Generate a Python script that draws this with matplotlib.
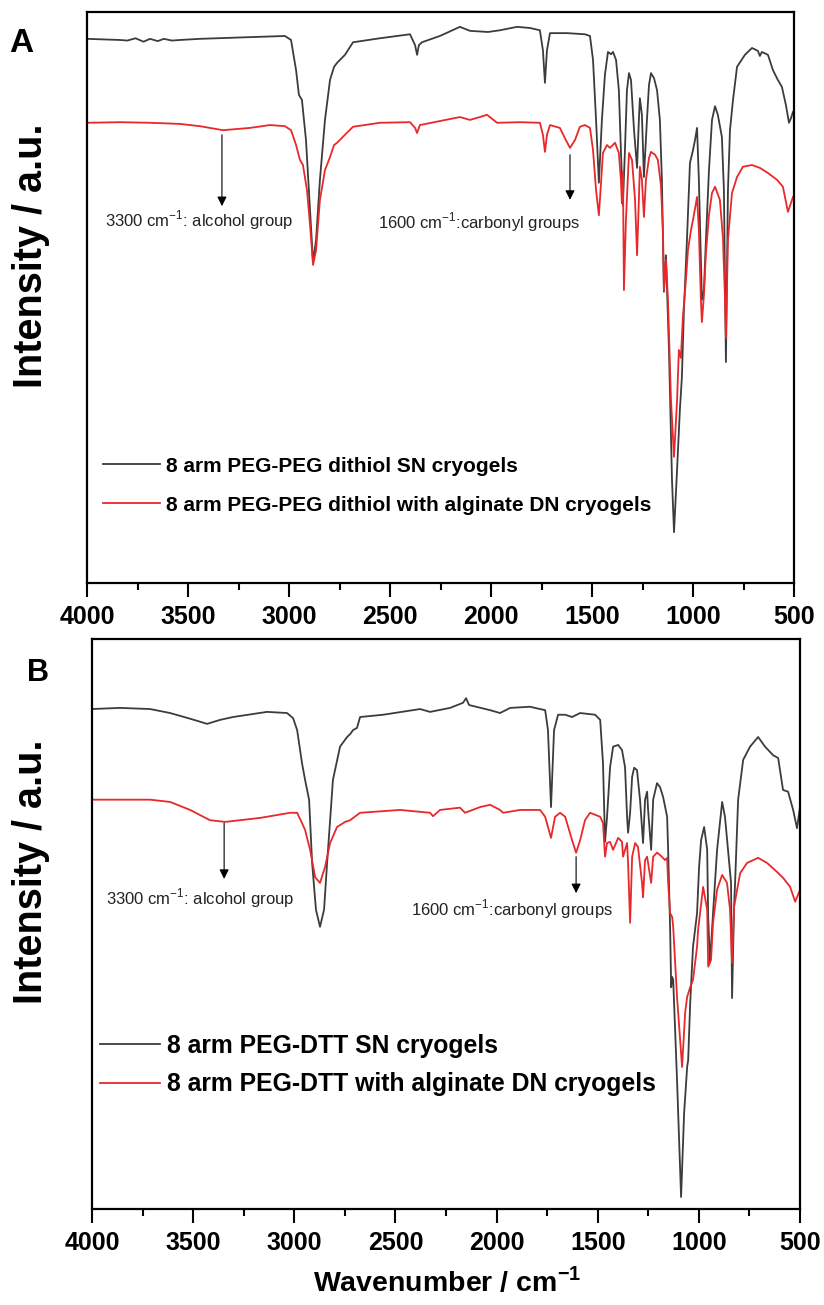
import matplotlib
matplotlib.use('Agg')
import matplotlib.pyplot as plt
from matplotlib import font_manager
from matplotlib.ticker import MultipleLocator

# FTIR spectra of the SN / DN cryogels (wavenumber in cm-1, intensity in a.u.)

# panel A - 8 arm PEG-PEG dithiol
a_sn_wn = [4000, 3837, 3800, 3760, 3720, 3688, 3650, 3620, 3580, 3540, 3441, 3193, 3020, 2990, 2965,
           2951, 2936, 2916, 2896, 2881, 2866, 2847, 2822, 2797, 2777, 2762, 2748, 2723, 2683,
           2550, 2401, 2376, 2366, 2357, 2342, 2253, 2154, 2104, 2015, 1956, 1871, 1807, 1758,
           1743, 1733, 1723, 1708, 1624, 1535, 1510, 1495, 1480, 1466, 1451, 1436, 1421, 1406,
           1396, 1381, 1367, 1357, 1347, 1337, 1327, 1317, 1307, 1292, 1277, 1268, 1263, 1253,
           1243, 1228, 1218, 1208, 1193, 1178, 1164, 1154, 1144, 1134, 1119, 1104, 1094, 1079,
           1065, 1055, 1045, 1030, 1015, 1000, 990, 980, 971, 961, 956, 946, 936, 921, 906, 891,
           877, 857, 847, 837, 827, 817, 802, 782, 743, 708, 679, 669, 659, 629, 604, 580, 560,
           540, 525, 515, 505]
a_sn_int = [95.3, 95.1, 95.0, 95.4, 94.8, 95.3, 94.9, 95.3, 95.0, 95.1, 95.3, 95.6, 95.8, 95.1, 89.8,
            85.5, 84.6, 77.6, 65.3, 56.2, 60.1, 70.6, 81.1, 88.1, 90.4, 91.1, 91.6, 92.5, 94.7,
            95.4, 96.1, 94.2, 92.5, 94.2, 94.7, 95.8, 97.4, 96.7, 96.5, 96.8, 97.4, 97.2, 96.8,
            93.3, 87.6, 93.3, 96.3, 96.3, 96.1, 95.8, 91.6, 81.1, 70.1, 81.1, 89.0, 93.0, 92.6,
            93.0, 91.6, 86.3, 75.8, 66.2, 75.8, 86.3, 89.3, 88.1, 79.3, 72.7, 81.1, 84.9, 82.0,
            71.1, 81.1, 87.2, 89.3, 88.4, 86.3, 81.1, 70.6, 51.0, 57.4, 40.8, 18.0, 8.9, 19.8,
            30.3, 36.1, 47.8, 60.1, 73.6, 75.8, 77.6, 79.7, 70.6, 56.6, 49.6, 51.3, 60.1, 72.3,
            81.1, 83.5, 82.0, 78.1, 68.8, 38.7, 68.8, 79.3, 84.6, 90.4, 92.5, 93.7, 93.2, 92.3,
            93.0, 92.5, 89.8, 88.1, 86.9, 83.7, 80.6, 81.4, 82.5]

a_dn_wn = [4000, 3837, 3688, 3540, 3441, 3327, 3193, 3094, 3020, 2990, 2965, 2946, 2931, 2911, 2896,
           2881, 2866, 2847, 2822, 2797, 2777, 2762, 2748, 2723, 2683, 2550, 2401, 2376, 2366,
           2352, 2253, 2154, 2104, 2055, 2020, 1970, 1857, 1758, 1743, 1733, 1723, 1708, 1659,
           1634, 1609, 1584, 1560, 1535, 1510, 1495, 1480, 1466, 1456, 1446, 1426, 1411, 1386,
           1367, 1357, 1352, 1347, 1342, 1332, 1317, 1302, 1287, 1277, 1268, 1263, 1253, 1243,
           1233, 1218, 1208, 1188, 1174, 1159, 1149, 1144, 1134, 1124, 1109, 1094, 1079, 1070,
           1060, 1050, 1035, 1025, 1010, 1000, 980, 971, 961, 956, 946, 936, 921, 906, 891, 867,
           852, 842, 837, 827, 807, 782, 753, 708, 669, 629, 584, 555, 530, 505]
a_dn_int = [80.6, 80.7, 80.6, 80.4, 80.0, 79.3, 79.7, 80.2, 80.0, 79.3, 76.7, 74.1, 73.2, 68.8, 62.7,
            55.7, 58.3, 67.1, 72.3, 74.6, 76.7, 77.1, 77.6, 78.5, 79.9, 80.6, 80.7, 79.7, 78.8,
            80.2, 80.9, 81.6, 81.1, 81.6, 82.0, 80.6, 80.7, 80.6, 78.5, 75.5, 78.5, 80.2, 79.7,
            77.9, 76.2, 77.6, 79.9, 80.2, 79.7, 75.8, 68.8, 64.4, 69.7, 75.3, 76.7, 76.2, 77.1,
            75.3, 70.6, 66.5, 72.0, 51.3, 63.6, 75.3, 74.1, 67.1, 57.4, 67.1, 72.9, 70.6, 64.1,
            70.6, 74.4, 75.5, 75.0, 74.1, 69.7, 61.8, 51.3, 56.6, 49.6, 32.0, 22.1, 32.0, 40.8,
            39.4, 46.6, 53.1, 58.3, 61.8, 63.6, 67.6, 61.8, 49.6, 45.7, 50.4, 57.8, 64.4, 68.3,
            69.4, 67.1, 60.6, 50.1, 42.9, 60.1, 68.3, 71.1, 72.9, 73.2, 72.7, 71.8, 70.6, 69.4,
            65.0, 67.6]

# panel B - 8 arm PEG-DTT
b_sn_wn = [4000, 3862, 3713, 3614, 3515, 3431, 3367, 3303, 3135, 3036, 3006, 2986, 2962, 2947, 2927,
           2912, 2893, 2873, 2853, 2838, 2809, 2774, 2739, 2724, 2710, 2690, 2675, 2561, 2378,
           2329, 2230, 2166, 2151, 2136, 2032, 1983, 1933, 1835, 1760, 1746, 1731, 1716, 1696,
           1661, 1627, 1587, 1513, 1488, 1474, 1464, 1454, 1439, 1424, 1399, 1380, 1365, 1355,
           1350, 1340, 1330, 1320, 1306, 1291, 1276, 1266, 1256, 1251, 1236, 1226, 1207, 1192,
           1177, 1157, 1152, 1142, 1137, 1132, 1127, 1108, 1088, 1073, 1058, 1053, 1043, 1029,
           1009, 999, 989, 974, 959, 954, 945, 930, 910, 885, 871, 856, 841, 836, 826, 821, 806,
           781, 747, 707, 673, 633, 608, 584, 559, 534, 515, 500]
b_sn_int = [87.7, 87.9, 87.7, 87.0, 86.0, 85.1, 85.8, 86.3, 87.2, 87.0, 86.1, 84.0, 78.2, 75.3, 71.8,
            60.7, 52.5, 49.5, 52.5, 60.7, 75.3, 81.1, 82.8, 83.3, 84.0, 84.4, 86.3, 86.7, 87.7,
            87.2, 87.9, 88.8, 89.6, 88.4, 87.5, 87.0, 87.9, 88.1, 87.5, 84.0, 70.5, 84.0, 86.7,
            86.7, 86.3, 87.0, 86.7, 85.8, 78.2, 64.4, 68.8, 77.5, 81.1, 81.4, 80.5, 77.5, 68.8,
            66.0, 69.5, 75.8, 77.4, 77.0, 71.8, 64.2, 71.8, 73.2, 70.0, 63.0, 71.8, 74.7, 74.0,
            72.3, 68.8, 63.0, 48.9, 38.9, 40.7, 40.2, 22.6, 2.1, 16.8, 24.9, 26.1, 36.1, 46.0,
            51.9, 60.0, 64.7, 67.0, 63.0, 51.2, 43.2, 51.9, 63.0, 71.4, 68.8, 63.0, 57.2, 37.0,
            53.0, 57.2, 71.8, 78.8, 81.1, 82.8, 81.1, 79.6, 79.1, 73.5, 73.2, 70.0, 66.8, 70.5]

b_dn_wn = [4000, 3713, 3614, 3515, 3417, 3342, 3169, 3021, 2986, 2962, 2947, 2922, 2897, 2873, 2848,
           2823, 2789, 2749, 2724, 2675, 2477, 2329, 2314, 2280, 2181, 2156, 2082, 2032, 1983,
           1968, 1884, 1785, 1760, 1731, 1711, 1686, 1661, 1627, 1607, 1587, 1563, 1538, 1488,
           1474, 1464, 1454, 1439, 1424, 1399, 1380, 1375, 1355, 1350, 1340, 1330, 1315, 1301,
           1281, 1276, 1266, 1256, 1236, 1226, 1207, 1192, 1167, 1157, 1152, 1142, 1132, 1127,
           1108, 1083, 1068, 1058, 1043, 1029, 1009, 1004, 979, 959, 954, 940, 930, 910, 885,
           861, 846, 836, 826, 811, 796, 762, 707, 663, 613, 584, 549, 524, 500]
b_dn_int = [71.8, 71.8, 71.4, 70.0, 68.2, 67.9, 68.6, 69.5, 69.5, 67.7, 66.5, 63.0, 58.2, 57.2, 60.0,
            64.2, 67.0, 67.9, 68.2, 69.5, 70.0, 69.5, 68.9, 70.0, 70.4, 69.5, 70.5, 70.9, 70.0,
            69.5, 70.0, 70.0, 68.8, 65.1, 68.8, 69.5, 68.8, 64.7, 62.5, 64.7, 68.2, 69.5, 68.8,
            67.7, 61.8, 64.2, 64.4, 63.0, 65.1, 64.4, 61.8, 64.2, 60.7, 50.2, 61.8, 64.2, 63.5,
            57.2, 54.7, 61.2, 61.8, 57.2, 61.8, 62.5, 62.1, 61.2, 61.6, 57.2, 51.9, 51.2, 49.5,
            37.2, 24.9, 34.4, 37.2, 38.9, 40.2, 46.0, 48.9, 56.5, 52.5, 42.5, 43.7, 50.2, 56.0,
            58.6, 57.2, 52.5, 43.2, 53.0, 56.0, 58.9, 60.7, 61.6, 60.7, 59.1, 58.1, 56.5, 53.9,
            56.0]

a_labels = ['8 arm PEG-PEG dithiol SN cryogels', '8 arm PEG-PEG dithiol with alginate DN cryogels']
b_labels = ['8 arm PEG-DTT SN cryogels', '8 arm PEG-DTT with alginate DN cryogels']

# use a narrow bold face for ticks / legend if we have one
names = {f.name for f in font_manager.fontManager.ttflist}
if 'Liberation Sans Narrow' in names:
    narrow = 'Liberation Sans Narrow'
    tick_fs, leg_a_fs, leg_b_fs, xlab_fs = 21, 18, 21.5, 24
else:
    narrow = 'Liberation Sans'
    tick_fs, leg_a_fs, leg_b_fs, xlab_fs = 18, 15, 17.8, 20.5

plt.rcParams['font.family'] = ['Liberation Sans', 'DejaVu Sans']
plt.rcParams['mathtext.fontset'] = 'custom'
plt.rcParams['mathtext.rm'] = 'Liberation Sans'
plt.rcParams['mathtext.bf'] = 'Liberation Sans:bold'

black = '#3c3c3c'
red = '#e8282b'

fig = plt.figure(figsize=(8.24, 13.05), dpi=100)
ax_a = fig.add_axes([0.1056, 0.5533, 0.858, 0.4375])
ax_b = fig.add_axes([0.1117, 0.0736, 0.8592, 0.4368])


def style_axis(ax):
    ax.set_xlim(4000, 500)
    ax.set_ylim(0, 100)
    ax.xaxis.set_major_locator(MultipleLocator(500))
    ax.xaxis.set_minor_locator(MultipleLocator(250))
    ax.tick_params(axis='x', which='major', direction='out', length=10, width=1.5, pad=6)
    ax.tick_params(axis='x', which='minor', direction='out', length=5, width=1.5)
    ax.tick_params(axis='y', which='both', left=False, labelleft=False)
    for lab in ax.get_xticklabels():
        lab.set_fontfamily(narrow)
        lab.set_fontweight('bold')
        lab.set_fontsize(tick_fs)
    for sp in ax.spines.values():
        sp.set_linewidth(1.6)


def add_note(ax, wn, y_start, y_tip, text, text_wn, text_y):
    # arrow pointing down from the red spectrum with its label underneath
    ax.annotate('', xy=(wn, y_tip), xytext=(wn, y_start),
                arrowprops=dict(arrowstyle='-|>', color='black', lw=0.8, mutation_scale=14,
                                shrinkA=0, shrinkB=0))
    ax.text(text_wn, text_y, text, fontsize=12, ha='center', va='center', color='#222222')


def add_legend(ax, x0, y0, size, hlen, spacing):
    ax.legend(loc='upper left', bbox_to_anchor=(x0, y0), frameon=False, borderpad=0,
              borderaxespad=0, handlelength=hlen, handletextpad=0.28, labelspacing=spacing,
              prop={'family': narrow, 'weight': 'bold', 'size': size})


# panel A
ax_a.plot(a_sn_wn, a_sn_int, color=black, lw=1.3, label=a_labels[0])
ax_a.plot(a_dn_wn, a_dn_int, color=red, lw=1.3, label=a_labels[1])
style_axis(ax_a)
add_note(ax_a, 3332, 78.5, 66.0, '3300 cm$^{-1}$: alcohol group', 3446, 63.6)
add_note(ax_a, 1609, 75.0, 67.1, '1600 cm$^{-1}$:carbonyl groups', 2060, 63.2)
add_legend(ax_a, 0.022, 0.221, leg_a_fs, 2.75, 0.95)

# panel B
ax_b.plot(b_sn_wn, b_sn_int, color=black, lw=1.3, label=b_labels[0])
ax_b.plot(b_dn_wn, b_dn_int, color=red, lw=1.3, label=b_labels[1])
style_axis(ax_b)
add_note(ax_b, 3347, 67.7, 57.9, '3300 cm$^{-1}$: alcohol group', 3466, 54.6)
add_note(ax_b, 1607, 61.8, 55.4, '1600 cm$^{-1}$:carbonyl groups', 1924, 52.5)
add_legend(ax_b, 0.011, 0.307, leg_b_fs, 2.45, 0.58)

# axis titles and panel letters
fig.text(31 / 824, 1 - 256 / 1305, 'Intensity / a.u.', rotation=90, fontsize=28.5,
         fontweight='bold', ha='center', va='center')
fig.text(31 / 824, 1 - 872 / 1305, 'Intensity / a.u.', rotation=90, fontsize=28.5,
         fontweight='bold', ha='center', va='center')
fig.text(21 / 824, 1 - 43 / 1305, 'A', fontsize=24, fontweight='bold', ha='center', va='center')
fig.text(38 / 824, 1 - 673 / 1305, 'B', fontsize=22, fontweight='bold', ha='center', va='center')
fig.text(447 / 824, 1 - 1282 / 1305, r'Wavenumber / cm$^{\mathbf{-1}}$', fontsize=xlab_fs,
         fontweight='bold', family=narrow, ha='center', va='center')

fig.savefig('out.png', dpi=100)
